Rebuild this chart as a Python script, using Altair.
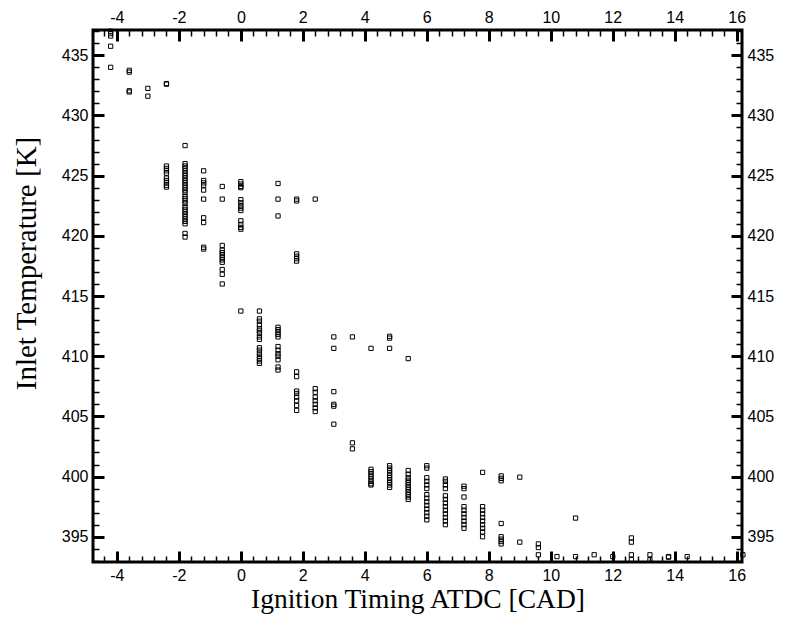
import altair as alt
import pandas as pd

# Inlet temperature [K] readings grouped by ignition timing [CAD ATDC]
t_m4_2 = [437.0, 436.8, 436.6, 435.75, 434.0]
t_m3_6 = [433.75, 433.6, 432.05, 431.95]
t_m3_0 = [432.25, 431.6]
t_m2_4 = [432.65, 432.6, 425.8, 425.6, 425.4, 425.2, 424.8, 424.6, 424.4, 424.2, 424.05]
t_m1_8 = [427.5, 426.0, 425.8, 425.6, 425.4, 425.2, 425.0, 424.8, 424.6, 424.4, 424.2, 424.0,
          423.8, 423.6, 423.3, 423.1, 422.9, 422.7, 422.4, 422.2, 422.0, 421.8, 421.6, 421.4,
          421.2, 421.0, 420.2, 419.9]
t_m1_2 = [425.4, 424.6, 424.4, 424.2, 423.8, 423.05, 421.5, 421.1, 419.05, 418.9]
t_m0_6 = [424.1, 423.05, 419.2, 418.8, 418.6, 418.4, 418.2, 418.0, 417.8, 417.2, 416.8, 416.0]
t_0_0 = [424.5, 424.3, 424.1, 424.0, 423.0, 422.75, 422.5, 422.3, 422.1, 421.25, 420.95,
         420.7, 420.55, 413.75]
t_0_6 = [413.75, 413.1, 412.9, 412.6, 412.3, 412.1, 411.9, 411.6, 411.4, 410.7, 410.5,
         410.25, 410.0, 409.8, 409.6, 409.4]
t_1_2 = [424.35, 423.05, 421.65, 412.4, 412.2, 412.0, 411.8, 411.6, 410.8, 410.5, 410.2,
         410.0, 409.7, 409.1, 408.85]
t_1_8 = [423.05, 422.9, 418.5, 418.3, 418.1, 417.9, 408.7, 408.3, 407.1, 406.9, 406.6,
         406.3, 405.9, 405.5]
t_2_4 = [423.05, 407.3, 407.0, 406.6, 406.3, 406.0, 405.7, 405.4]
t_3_0 = [411.6, 410.65, 407.05, 406.0, 405.85, 404.35]
t_3_6 = [411.6, 402.8, 402.3]
t_4_2 = [410.65, 400.6, 400.4, 400.2, 400.0, 399.8, 399.6, 399.4, 399.3]
t_4_8 = [411.65, 411.5, 410.65, 400.9, 400.7, 400.5, 400.3, 400.1, 399.9, 399.7, 399.5,
         399.3, 399.1]
t_5_4 = [409.8, 400.5, 400.2, 399.9, 399.7, 399.5, 399.3, 399.1, 398.9, 398.7, 398.5,
         398.3, 398.1]
t_6_0 = [400.9, 400.7, 399.9, 399.6, 399.3, 399.0, 398.5, 398.2, 397.9, 397.6, 397.3,
         397.0, 396.7, 396.4]
t_6_6 = [399.8, 399.6, 399.3, 399.0, 398.4, 398.1, 397.8, 397.5, 397.2, 396.9, 396.6,
         396.3, 396.0]
t_7_2 = [399.2, 399.0, 398.3, 397.5, 397.2, 396.9, 396.6, 396.3, 396.0, 395.7]
t_7_8 = [400.35, 397.5, 397.2, 396.9, 396.6, 396.3, 396.0, 395.7, 395.4, 395.0]
t_8_4 = [400.05, 399.85, 399.65, 396.1, 395.0, 394.8, 394.6, 394.4]
t_9_0 = [399.95, 394.55]
t_9_6 = [394.4, 394.1, 393.5]
t_10_2 = [393.35]
t_10_8 = [396.55, 393.35]
t_11_4 = [393.5]
t_12_0 = [393.35]
t_12_6 = [394.9, 394.55, 393.5, 393.1]
t_13_2 = [393.5, 393.1]
t_13_8 = [393.35, 393.3]
t_14_4 = [393.35]
t_16_2 = [393.5]

timings = [-4.2, -3.6, -3.0, -2.4, -1.8, -1.2, -0.6, 0.0, 0.6, 1.2, 1.8, 2.4, 3.0, 3.6,
           4.2, 4.8, 5.4, 6.0, 6.6, 7.2, 7.8, 8.4, 9.0, 9.6, 10.2, 10.8, 11.4, 12.0,
           12.6, 13.2, 13.8, 14.4, 16.2]
temp_groups = [t_m4_2, t_m3_6, t_m3_0, t_m2_4, t_m1_8, t_m1_2, t_m0_6, t_0_0, t_0_6, t_1_2,
               t_1_8, t_2_4, t_3_0, t_3_6, t_4_2, t_4_8, t_5_4, t_6_0, t_6_6, t_7_2, t_7_8,
               t_8_4, t_9_0, t_9_6, t_10_2, t_10_8, t_11_4, t_12_0, t_12_6, t_13_2, t_13_8,
               t_14_4, t_16_2]

x_major = [-4, -2, 0, 2, 4, 6, 8, 10, 12, 14, 16]
y_major = [395, 400, 405, 410, 415, 420, 425, 430, 435]
x_domain = [-4.77, 16.17]
y_domain = [392.9, 437.1]

x_minor = [round(-4.4 + 0.4 * i, 1) for i in range(52)]
x_minor = [v for v in x_minor if v <= x_domain[1] and abs(v / 2 - round(v / 2)) > 1e-6]
y_minor = [v for v in range(393, 438) if v % 5 != 0]

rows = []
for t, grp in zip(timings, temp_groups):
    for v in grp:
        rows.append({"timing": t, "temp": v})
df = pd.DataFrame(rows)

xs = alt.Scale(domain=x_domain, nice=False, zero=False)
ys = alt.Scale(domain=y_domain, nice=False, zero=False)

LABEL_FONT = "Liberation Sans"
TITLE_FONT = "Liberation Serif"
MAJ = 11
MIN = 6


def major_axis(orient, values, title=None, title_size=27, **kw):
    args = dict(orient=orient, values=values, domain=False, grid=False,
                offset=-MAJ, tickSize=MAJ, tickWidth=3, tickColor="black",
                labelFont=LABEL_FONT, labelFontSize=16, labelColor="black",
                labelPadding=5, labelExpr="'' + datum.value", labelOverlap=False,
                labelFlush=False, title=title)
    if title:
        args.update(titleFont=TITLE_FONT, titleFontSize=title_size,
                    titleFontWeight="normal", titleColor="black")
    args.update(kw)
    return alt.Axis(**args)


def minor_axis(orient, values):
    return alt.Axis(orient=orient, values=values, domain=False, grid=False,
                    offset=-MIN, tickSize=MIN, tickWidth=1.5, tickColor="black",
                    labels=False, title=None)


def layer(xaxis, yaxis, opacity):
    return alt.Chart(df).mark_point(
        shape="square", filled=False, size=18, strokeWidth=1, color="black",
        opacity=opacity
    ).encode(
        x=alt.X("timing:Q", scale=xs, axis=xaxis),
        y=alt.Y("temp:Q", scale=ys, axis=yaxis),
    )


l1 = layer(
    major_axis("bottom", x_major, "Ignition Timing ATDC [CAD]", title_size=27.5,
               titlePadding=2),
    major_axis("left", y_major, "Inlet Temperature [K]", title_size=29,
               titlePadding=20, titleY=233, titleAlign="center"),
    1,
)
l2 = layer(major_axis("top", x_major), major_axis("right", y_major), 0)
l3 = layer(minor_axis("bottom", x_minor), minor_axis("left", y_minor), 0)
l4 = layer(minor_axis("top", x_minor), minor_axis("right", y_minor), 0)

chart = alt.layer(l4, l3, l2, l1).resolve_axis(
    x="independent", y="independent"
).properties(
    width=649, height=532,
    autosize=alt.AutoSizeParams(type="none"),
    padding={"left": 93, "top": 30, "right": 46, "bottom": 56},
    background="white",
).configure_view(stroke="black", strokeWidth=3)

chart.save("out.html", embed_options={"renderer": "svg", "actions": False})
